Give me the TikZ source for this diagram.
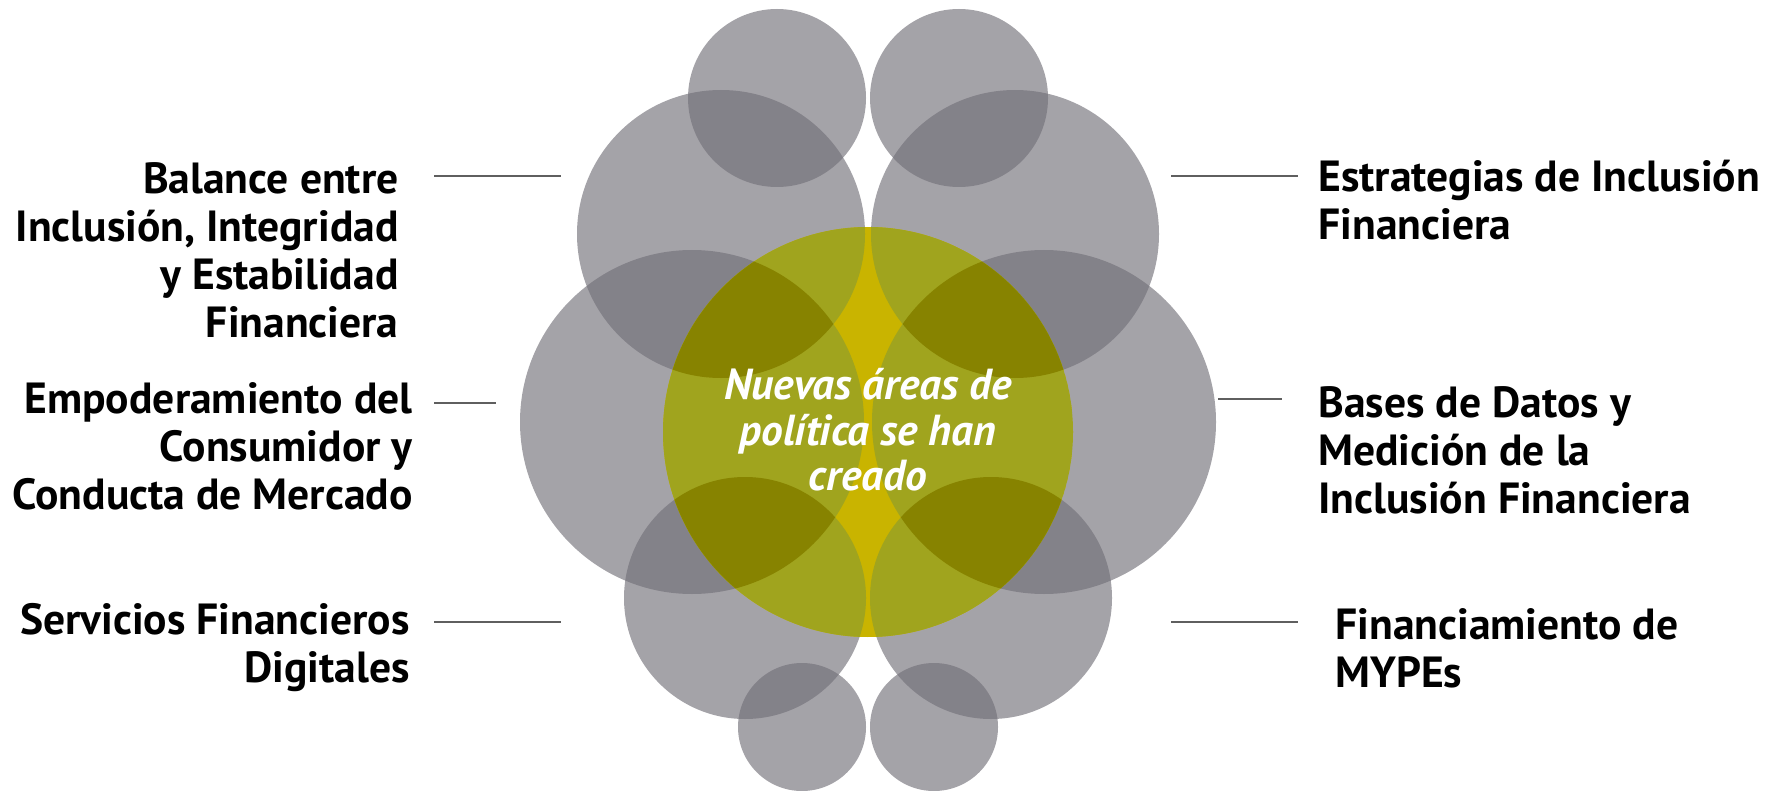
\documentclass[tikz,border=0pt]{standalone}
\usepackage{fontspec}
\setmainfont{PT Sans}
\definecolor{circgray}{RGB}{113,111,119}
\definecolor{leafgreen}{RGB}{160,164,30}
\definecolor{leafdark}{RGB}{135,131,0}
\definecolor{leafyellow}{RGB}{201,180,0}
\definecolor{rulegray}{RGB}{95,95,95}
\begin{document}
\begin{tikzpicture}[x=0.5pt,y=-0.5pt,
  bubble/.style={fill=circgray,fill opacity=0.64},
  topic/.style={inner sep=0pt,font=\bfseries\fontsize{21.8}{24}\selectfont},
  tick/.style={draw=rulegray,line width=1pt}]
\useasboundingbox (0,0) rectangle (1777,791);

% grey circles
\fill [bubble] (777,98) circle (89);
\fill [bubble] (959,98) circle (89);
\fill [bubble] (721,234) circle (144);
\fill [bubble] (1015,234) circle (144);
\fill [bubble] (692,422) circle (172);
\fill [bubble] (1044,422) circle (172);
\fill [bubble] (745,598) circle (121);
\fill [bubble] (991,598) circle (121);
\fill [bubble] (802,727) circle (64);
\fill [bubble] (934,727) circle (64);

% green circle
\begin{scope}
\clip (868,432) circle (205);
\fill [leafyellow] (868,432) circle (205);
\fill [leafgreen] (721,234) circle (144);
\fill [leafgreen] (1015,234) circle (144);
\fill [leafgreen] (692,422) circle (172);
\fill [leafgreen] (1044,422) circle (172);
\fill [leafgreen] (745,598) circle (121);
\fill [leafgreen] (991,598) circle (121);
\begin{scope}
\clip (692,422) circle (172);
\fill [leafdark] (721,234) circle (144);
\fill [leafdark] (745,598) circle (121);
\end{scope}
\begin{scope}
\clip (1044,422) circle (172);
\fill [leafdark] (1015,234) circle (144);
\fill [leafdark] (991,598) circle (121);
\end{scope}
\end{scope}

\node [font=\bfseries\itshape\fontsize{21.7}{22.7}\selectfont, text=white, align=center] (nuevas) at (868,430) {Nuevas áreas de\\política se han\\creado};

% left
\node [topic, anchor=east, align=right] (balance) at (399,250) {Balance entre\\Inclusión, Integridad\\y Estabilidad\\Financiera};
\node [topic, anchor=east, align=right] (consumidor) at (413,446) {Empoderamiento del\\Consumidor y\\Conducta de Mercado};
\node [topic, anchor=east, align=right] (digitales) at (410,648) {Servicios Financieros\\Digitales};

% right
\node [topic, anchor=west, align=left] (estrategias) at (1318,200) {Estrategias de Inclusión\\Financiera};
\node [topic, anchor=west, align=left] (datos) at (1318,450) {Bases de Datos y\\Medición de la\\Inclusión Financiera};
\node [topic, anchor=west, align=left] (mypes) at (1335,648) {Financiamiento de\\MYPEs};

% lines
\coordinate (balanceA) at (434,176);
\coordinate (balanceB) at (561,176);
\coordinate (consumidorA) at (434,403);
\coordinate (consumidorB) at (496,403);
\coordinate (digitalesA) at (434,622);
\coordinate (digitalesB) at (561,622);
\coordinate (estrategiasA) at (1171,176);
\coordinate (estrategiasB) at (1298,176);
\coordinate (datosA) at (1218,399);
\coordinate (datosB) at (1282,399);
\coordinate (mypesA) at (1171,622);
\coordinate (mypesB) at (1298,622);
\draw [tick] (balanceA) -- (balanceB);
\draw [tick] (consumidorA) -- (consumidorB);
\draw [tick] (digitalesA) -- (digitalesB);
\draw [tick] (estrategiasA) -- (estrategiasB);
\draw [tick] (datosA) -- (datosB);
\draw [tick] (mypesA) -- (mypesB);

\end{tikzpicture}
\end{document}
